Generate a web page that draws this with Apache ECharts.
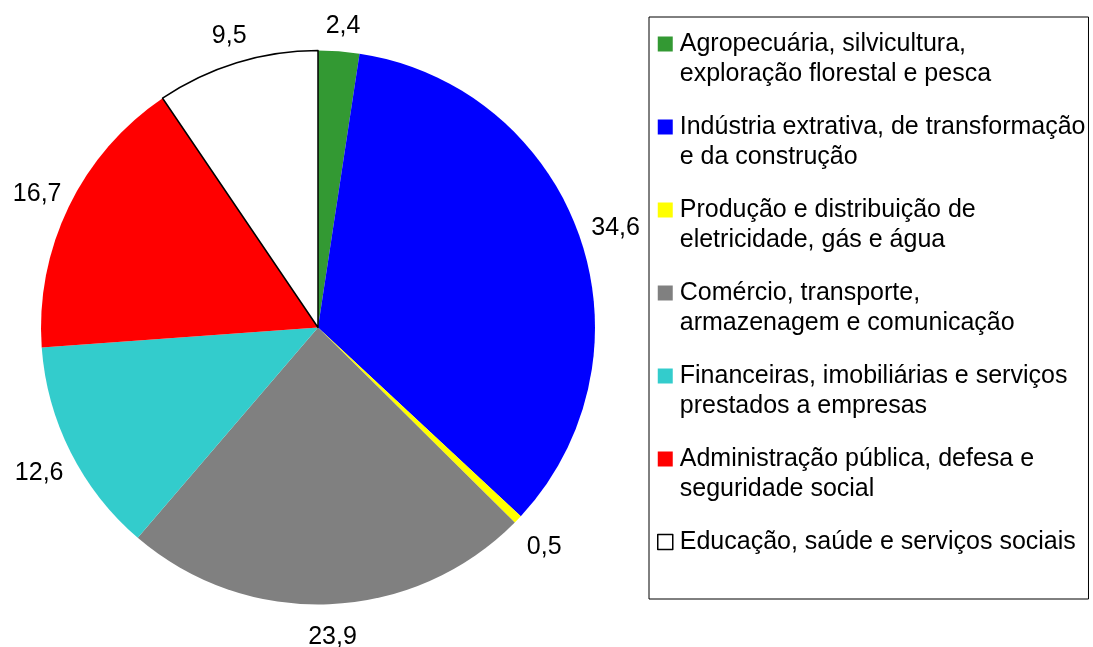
<!DOCTYPE html>
<html><head><meta charset="utf-8">
<script src="https://cdn.jsdelivr.net/npm/echarts@6/dist/echarts.min.js"></script>
<style>html,body{margin:0;padding:0;background:#fff}#c{width:1093px;height:647px}</style>
</head><body><div id="c"></div>
<script>
const categories = [
  'Agropecuária, silvicultura, exploração florestal e pesca',
  'Indústria extrativa, de transformação e da construção',
  'Produção e distribuição de eletricidade, gás e água',
  'Comércio, transporte, armazenagem e comunicação',
  'Financeiras, imobiliárias e serviços prestados a empresas',
  'Administração pública, defesa e seguridade social',
  'Educação, saúde e serviços sociais'
];
const legendLabels = [
  'Agropecuária, silvicultura,\nexploração florestal e pesca',
  'Indústria extrativa, de transformação\ne da construção',
  'Produção e distribuição de\neletricidade, gás e água',
  'Comércio, transporte,\narmazenagem e comunicação',
  'Financeiras, imobiliárias e serviços\nprestados a empresas',
  'Administração pública, defesa e\nseguridade social',
  'Educação, saúde e serviços sociais\n'
];
const values = [2.4, 34.6, 0.5, 23.9, 12.6, 16.7, 9.5];

const palette = ['#339933', '#0000FF', '#FFFF00', '#808080', '#33CCCC', '#FF0000', '#FFFFFF'];
const FONT = '"Liberation Sans", Arial, sans-serif';
const iconPath = 'path://M0,0H15V15H0Z M17,45';
const PIE_CX = 318, PIE_CY = 327.5, PIE_R = 277;
const LABEL_GAP = 5.6, LABEL_HALF_H = 22.6, LABEL_DX = 2, LABEL_DY = 4;

const chart = echarts.init(document.getElementById('c'), null, {renderer: 'canvas'});
const mainData = categories.map((n, i) => ({
  name: n, value: values[i],
  itemStyle: i === 6 ? {color: palette[i], borderColor: '#000', borderWidth: 1.5}
                     : {color: palette[i], borderWidth: 0}
}));
chart.setOption({
  backgroundColor: '#fff',
  animation: false,
  legend: {
    orient: 'vertical', left: 649, top: 17,
    padding: [12, 3, 12, 8],
    itemGap: 23, itemWidth: 17, itemHeight: 45,
    borderColor: '#000', borderWidth: 1, backgroundColor: '#fff',
    selectedMode: false,
    textStyle: {fontFamily: FONT, fontSize: 25, lineHeight: 30, color: '#000'},
    formatter: name => legendLabels[categories.indexOf(name)],
    data: categories.map((n, i) => ({
      name: n, icon: iconPath,
      itemStyle: i === 6 ? {color: '#fff', borderColor: '#000', borderWidth: 1.5} : {color: palette[i], borderWidth: 0}
    }))
  },
  series: [
    {
      type: 'pie', center: [PIE_CX, PIE_CY], radius: PIE_R, startAngle: 90, clockwise: true,
      silent: true,
      label: {
        show: true, position: 'inside', color: '#000', fontFamily: FONT, fontSize: 25,
        formatter: p => p.value.toFixed(1).replace('.', ',')
      },
      labelLine: {show: false},
      // place each label box just outside the rim along its slice's mid-angle direction
      labelLayout: function (params) {
        const lr = params.labelRect;
        const lx = lr.x + lr.width / 2, ly = lr.y + lr.height / 2;
        const dx = lx - PIE_CX, dy = ly - PIE_CY;
        const len = Math.hypot(dx, dy) || 1;
        const ux = dx / len, uy = dy / len;
        const dist = PIE_R + LABEL_GAP + Math.abs(ux) * lr.width / 2 + Math.abs(uy) * LABEL_HALF_H;
        return {x: PIE_CX + ux * dist + LABEL_DX, y: PIE_CY + uy * dist + LABEL_DY};
      },
      data: mainData
    }
  ]
});
</script>
</body></html>
